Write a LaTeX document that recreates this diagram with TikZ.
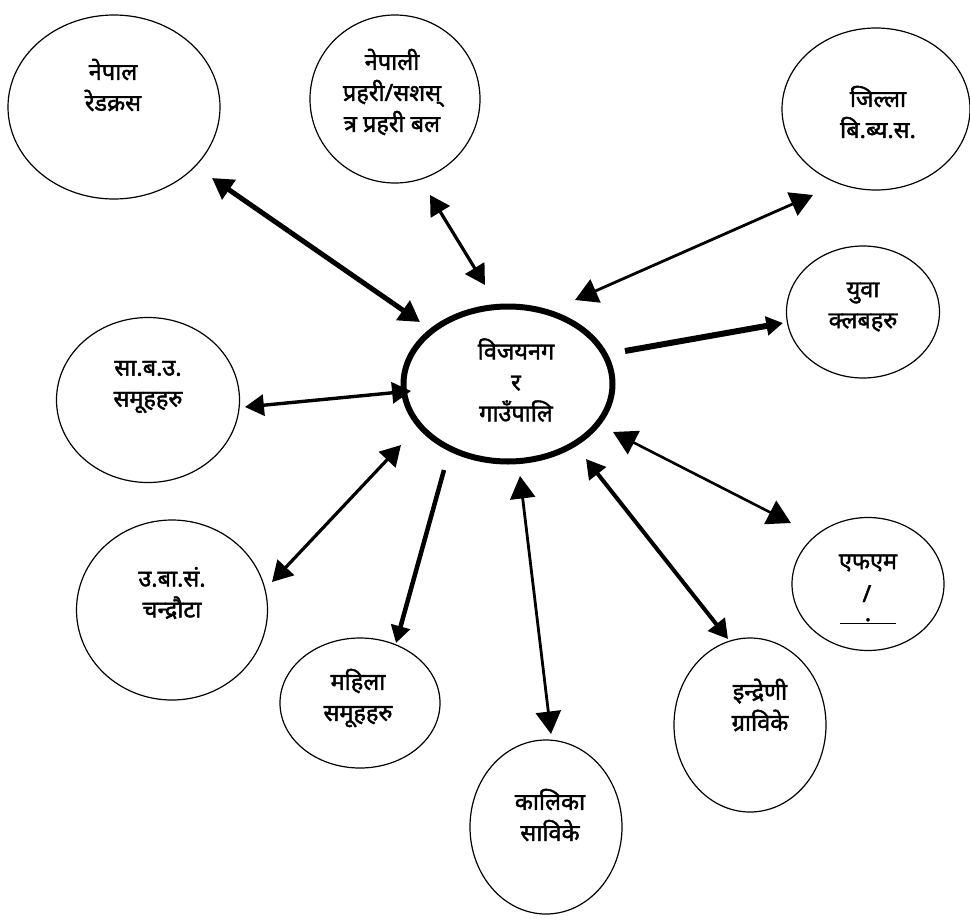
\documentclass[tikz,border=0pt]{standalone}
\usepackage{fontspec}
\newfontfamily\deva[Script=Devanagari,FakeBold=1.8]{Noto Sans}
\usetikzlibrary{shapes.geometric,arrows.meta}
\tikzset{
  bub/.style={draw,ellipse,line width=1.2pt,inner sep=0pt},
  hub/.style={draw,ellipse,line width=6pt,inner sep=0pt},
  lbl/.style={font=\deva\fontsize{23.5}{31}\selectfont,align=center,inner sep=0pt},
  tip/.style={-{Triangle[length=#1*4.5,width=#1*5]}},
  dtip/.style={{Triangle[length=#1*4.5,width=#1*5]}-{Triangle[length=#1*4.5,width=#1*5]}},
}
\begin{document}
\begin{tikzpicture}[x=1pt,y=-1pt]
\useasboundingbox (0,0) rectangle (970,921);
% bubbles
\node[bub,minimum width=212pt,minimum height=184pt] (rc) at (114,107) {};
\node[bub,minimum width=170pt,minimum height=168pt] (np) at (395,99) {};
\node[bub,minimum width=188pt,minimum height=162pt] (ds) at (876,109) {};
\node[bub,minimum width=153pt,minimum height=132pt] (yc) at (863,312) {};
\node[hub,minimum width=209pt,minimum height=155pt] (vj) at (508,384) {};
\node[bub,minimum width=183pt,minimum height=165pt] (sb) at (148,400) {};
\node[bub,minimum width=191pt,minimum height=180pt] (ub) at (172,610) {};
\node[bub,minimum width=160pt,minimum height=130pt] (mh) at (360,703) {};
\node[bub,minimum width=152pt,minimum height=174pt] (kl) at (546,827) {};
\node[bub,minimum width=152pt,minimum height=174pt] (ir) at (750,725) {};
\node[bub,minimum width=152pt,minimum height=133pt] (fm) at (868,584) {};
% labels
\node[lbl] (rct) at (113,85) {नेपाल\\रेडक्रस};
\node[lbl] (npt) at (392,92) {नेपाली\\प्रहरी/सशस्\\त्र प्रहरी बल};
\node[lbl] (dst) at (878,112) {जिल्ला\\बि.ब्य.स.};
\node[lbl] (yct) at (863,307) {युवा\\क्लबहरु};
\node[lbl] (vjt) at (516,380) {विजयनग\\र\\गाउँपालि};
\node[lbl] (sbt) at (148,387) {सा.ब.उ.\\समूहहरु};
\node[lbl] (ubt) at (172,593) {उ.बा.सं.\\चन्द्रौटा};
\node[lbl] (mht) at (358,698) {महिला\\समूहहरु};
\node[lbl] (klt) at (550,815) {कालिका\\साविके};
\node[lbl] (irt) at (760,705) {इन्द्रेणी\\ग्राविके};
\node[lbl] (fmt) at (868,563) {एफएम};
\node[lbl,anchor=base] (fms) at (868,621) {\rlap{\makebox[54pt]{\raisebox{19pt}{/}}}\underline{\hspace{25pt}.\hspace{25pt}}};
% connector ends
\coordinate (a1) at (212,178); \coordinate (b1) at (420,322);
\coordinate (a2) at (430,195); \coordinate (b2) at (485,285);
\coordinate (a3) at (575,300); \coordinate (b3) at (813,195);
\coordinate (a4) at (625,351); \coordinate (b4) at (783,323);
\coordinate (a5) at (245,407); \coordinate (b5) at (411,391);
\coordinate (a6) at (272,582); \coordinate (b6) at (401,445);
\coordinate (a7) at (444,470); \coordinate (b7) at (396,643);
\coordinate (a8) at (520,476); \coordinate (b8) at (551,734);
\coordinate (a9) at (586,459); \coordinate (b9) at (728,639);
\coordinate (a10) at (613,432); \coordinate (b10) at (791,523);
% connectors
\draw[line width=5pt,dtip=4.6] (a1) -- (b1);
\draw[line width=3.2pt,dtip=4.4] (a2) -- (b2);
\draw[line width=2.8pt,dtip=5] (a3) -- (b3);
\draw[line width=6pt,tip=3.7] (a4) -- (b4);
\draw[line width=3.4pt,dtip=4.2] (a5) -- (b5);
\draw[line width=3.2pt,dtip=4.5] (a6) -- (b6);
\draw[line width=4.5pt,tip=3.8] (a7) -- (b7);
\draw[line width=2.8pt,dtip=5] (a8) -- (b8);
\draw[line width=4pt,dtip=4.2] (a9) -- (b9);
\draw[line width=2.6pt,dtip=5.2] (a10) -- (b10);
\end{tikzpicture}
\end{document}
